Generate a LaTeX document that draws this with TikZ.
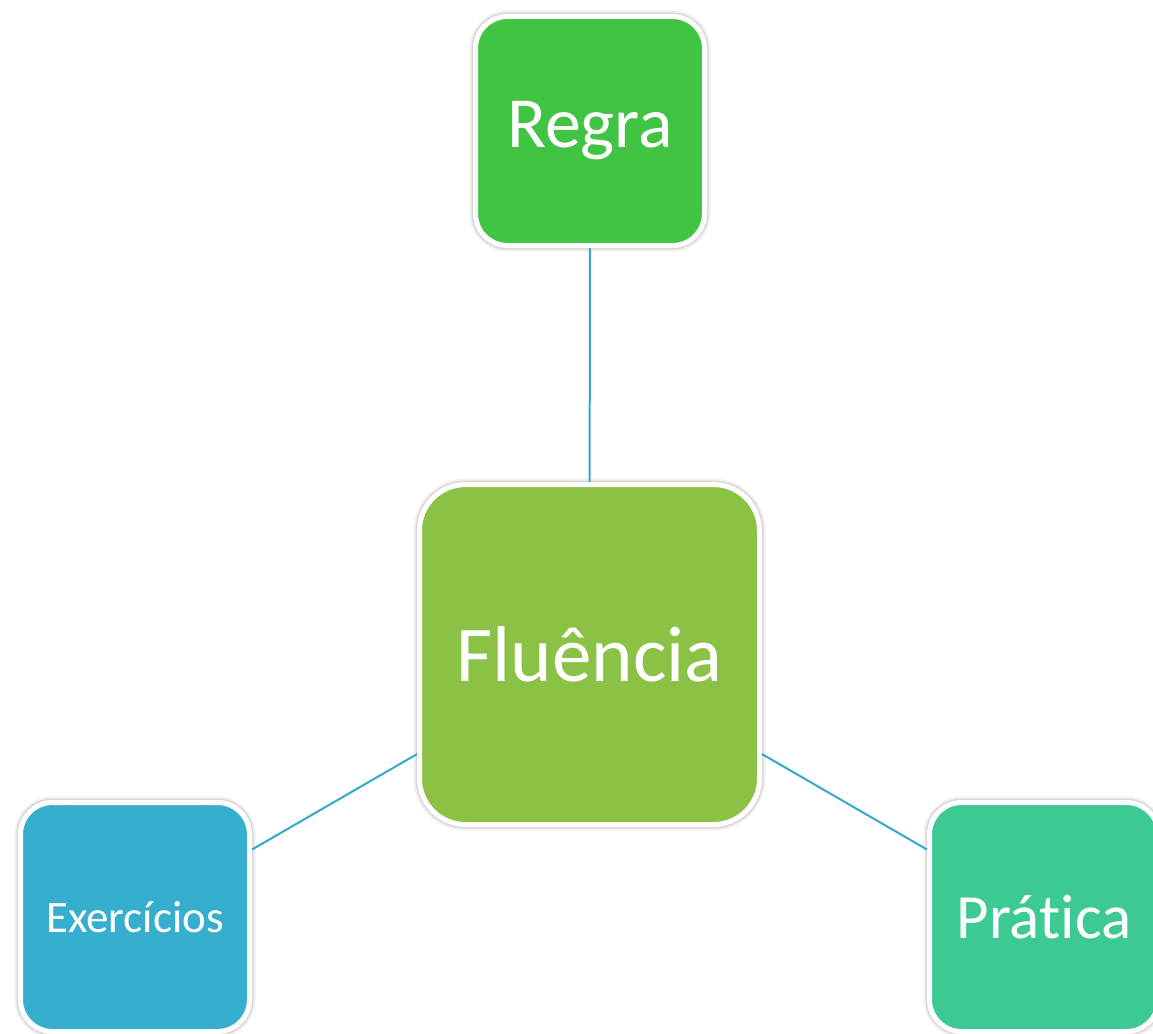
\documentclass[tikz,border=0pt]{standalone}
\usepackage{fontspec}
\setmainfont[Ligatures=NoCommon]{Carlito}
\definecolor{cRegra}{HTML}{41C443}
\definecolor{cFlu}{HTML}{8BC145}
\definecolor{cExe}{HTML}{36AFCF}
\definecolor{cPra}{HTML}{3DC993}
\definecolor{cLine}{HTML}{36A7CC}
\tikzset{
  boxnode/.style={rectangle, fill=#1, draw=white, line width=5pt, text=white,
    inner sep=0pt, align=center,
    preaction={draw=black, draw opacity=0.06, line width=12pt},
    preaction={draw=black, draw opacity=0.10, line width=8pt}},
  smallbox/.style={boxnode=#1, minimum width=229pt, minimum height=229pt, rounded corners=32pt},
  bigbox/.style={boxnode=#1, minimum width=340pt, minimum height=340pt, rounded corners=46pt},
  link/.style={draw=cLine, line width=2pt}
}
\begin{document}
\begin{tikzpicture}[x=1pt,y=-1pt]
\useasboundingbox[fill=white] (0,0) rectangle (1153,1033);
\node[bigbox=cFlu, font=\fontsize{79}{90}\selectfont] (flu) at (589.5,654.5) {Fluência};
\node[smallbox=cRegra, font=\fontsize{72}{84}\selectfont] (reg) at (590,131) {Regra};
\node[smallbox=cExe, font=\fontsize{45}{52}\selectfont] (exe) at (135,917) {Exercícios};
\node[smallbox=cPra, font=\fontsize{63}{72}\selectfont] (pra) at (1044,917) {Prática};
\draw[link] (reg) -- (flu);
\draw[link] (flu) -- (exe);
\draw[link] (flu) -- (pra);
\end{tikzpicture}
\end{document}
